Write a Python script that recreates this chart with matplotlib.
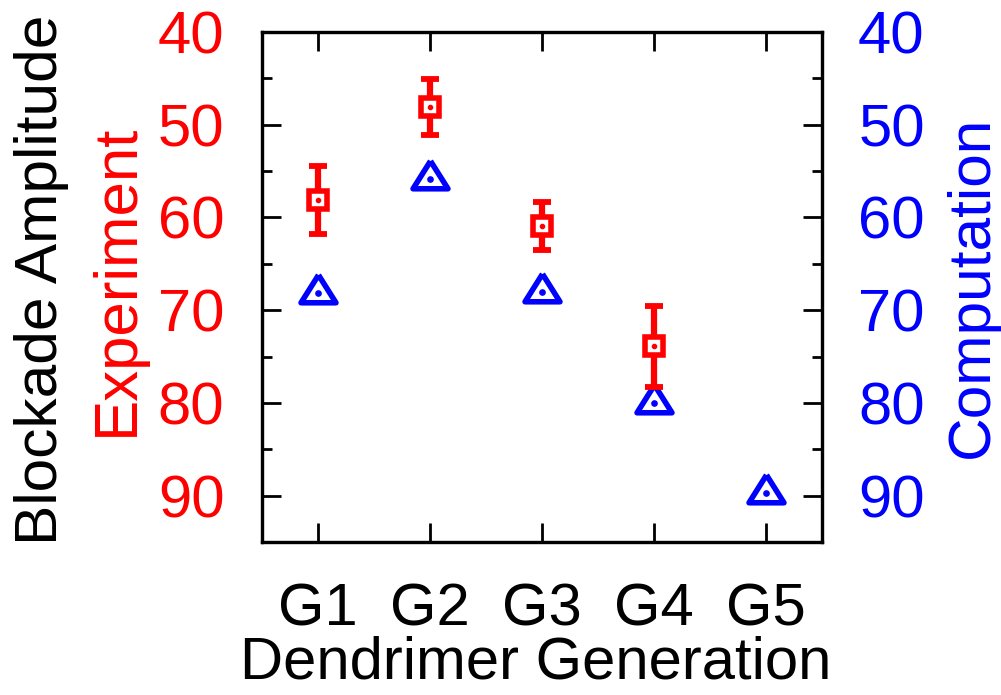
import matplotlib
matplotlib.use("Agg")
import matplotlib.pyplot as plt
from matplotlib.ticker import MultipleLocator
import numpy as np

plt.rcParams['font.family'] = ['Liberation Sans', 'DejaVu Sans']

generations = ["G1", "G2", "G3", "G4", "G5"]
exp_gens = ["G1", "G2", "G3", "G4"]
exp_vals = [58.1, 48.1, 60.9, 73.9]
exp_errs = [3.7, 3.0, 2.6, 4.4]
comp_vals = [68.2, 55.8, 68.0, 80.0, 89.7]

red = "#ff0000"
blue = "#0000ff"
fs = 43

fig = plt.figure(figsize=(10.01, 6.95), dpi=100)
ax = fig.add_axes([262 / 1001, 1 - 542 / 695, 560 / 1001, 510 / 695])
ax2 = ax.twinx()

x_all = np.arange(1, len(generations) + 1)
x_exp = np.array([generations.index(g) + 1 for g in exp_gens])

# open triangle whose centroid sits on the data point
tri = [(0, 18.5), (-17.5, -9.3), (17.5, -9.3), (0, 18.5)]

ax2.plot(x_all, comp_vals, linestyle="none", marker=tri, markersize=26.6,
         markerfacecolor="none", markeredgecolor=blue, markeredgewidth=4.0,
         zorder=3)
ax2.plot(x_all, comp_vals, linestyle="none", marker="o", markersize=3.8,
         color=blue, zorder=4)

ax.errorbar(x_exp, exp_vals, yerr=exp_errs, fmt="none", ecolor=red,
            elinewidth=4.5, capsize=6.2, capthick=4.2, zorder=3)
ax.plot(x_exp, exp_vals, linestyle="none", marker="s", markersize=12.6,
        markerfacecolor="white", markeredgecolor=red, markeredgewidth=4,
        zorder=4)
ax.plot(x_exp, exp_vals, linestyle="none", marker="o", markersize=3,
        color=red, zorder=5)

for a in (ax, ax2):
    a.set_ylim(95, 40)
    a.yaxis.set_major_locator(MultipleLocator(10))
    a.yaxis.set_minor_locator(MultipleLocator(5))
    a.set_xlim(0.5, 5.5)
    for s in a.spines.values():
        s.set_linewidth(2.3)

ax.set_zorder(ax2.get_zorder() + 1)
ax.patch.set_visible(False)

ax.set_xticks(x_all)
ax.set_xticklabels(generations)
ax.tick_params(axis="x", which="both", direction="in", top=True, bottom=True,
               length=13.5, width=2.0, pad=29, labelsize=fs)
ax.tick_params(axis="y", which="major", direction="in", left=True, right=False,
               length=13.5, width=2.0, pad=27, labelsize=fs, labelcolor=red)
ax.tick_params(axis="y", which="minor", direction="in", left=True, right=False,
               length=7.2, width=2.0)
ax2.tick_params(axis="y", which="major", direction="in", length=13.5,
                width=2.0, pad=26, labelsize=fs, labelcolor=blue)
ax2.tick_params(axis="y", which="minor", direction="in", length=7.2, width=2.0)
ax2.set_yticks([40, 50, 60, 70, 80, 90])

fig.text(42 / 1001, 1 - 280 / 695, "Blockade Amplitude", rotation=90,
         ha="center", va="center", fontsize=43.5, color="black")
fig.text(117 / 1001, 1 - 280 / 695, "Experiment", rotation=90,
         ha="center", va="center", fontsize=44.5, color=red)
fig.text(972 / 1001, 1 - 287 / 695, "Computation", rotation=90,
         ha="center", va="center", fontsize=43.5, color=blue)
fig.text(536 / 1001, 1 - 663 / 695, "Dendrimer Generation",
         ha="center", va="center", fontsize=fs, color="black")

fig.savefig("out.png", dpi=100)
